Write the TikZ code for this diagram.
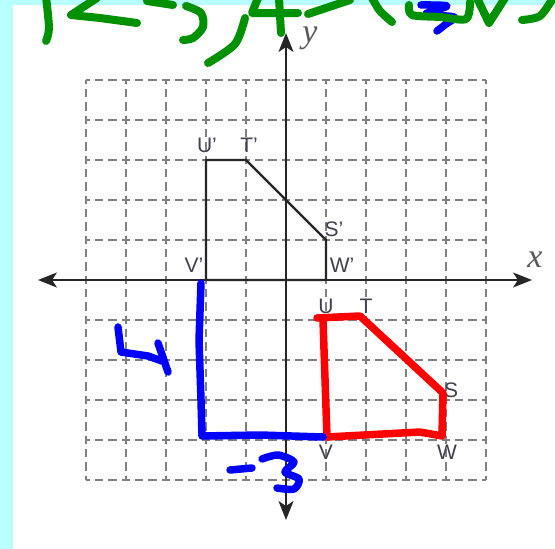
\documentclass[tikz,border=0pt]{standalone}
\usepackage{fontspec}
\setsansfont{Liberation Sans}
\newfontfamily\axisfont{Liberation Serif}
\usetikzlibrary{arrows.meta}

\definecolor{bgcyan}{RGB}{184,255,255}
\definecolor{inkgreen}{RGB}{0,145,0}
\definecolor{inkblue}{RGB}{0,0,255}
\definecolor{inkred}{RGB}{255,0,0}
\definecolor{lblgray}{RGB}{66,66,78}

\begin{document}
\begin{tikzpicture}[x=1pt,y=-1pt,
    gridline/.style={draw=black!50, line width=1.8pt,
      dash pattern=on 8.33pt off 5pt, dash phase=4.17pt},
    axis/.style={draw=black!85, line width=1.6pt,
      {Stealth[length=19pt,width=15pt,inset=5pt]}-{Stealth[length=19pt,width=15pt,inset=5pt]}},
    ink/.style={line width=7.5pt, line cap=round, line join=round},
    lbl/.style={font=\sffamily\fontsize{21}{21}\selectfont, text=lblgray, inner sep=0pt},
    axlbl/.style={font=\axisfont\itshape\fontsize{34}{34}\selectfont, text=black!65, inner sep=0pt}]
    \useasboundingbox (0,0) rectangle (555,549);
    % page
    \fill[bgcyan] (0,0) rectangle (555,549);
    \fill[white] (13,5) rectangle (555,549);
    % grid
    \foreach \x in {86,126,...,486}{
      \draw[gridline] (\x,80) -- (\x,480);
    }
    \foreach \y in {80,120,...,480}{
      \draw[gridline] (86,\y) -- (486,\y);
    }
    % axes
    \coordinate (xl) at (38,280);
    \coordinate (xr) at (532,280);
    \coordinate (yt) at (286,33);
    \coordinate (yb) at (286,520);
    \draw[axis] (xl) -- (xr);
    \draw[axis] (yb) -- (yt);
    \node[axlbl] (xlab) at (535,260) {x};
    \node[axlbl] (ylab) at (310,38) {y};
    % image after translation
    \coordinate (Up) at (206,160);
    \coordinate (Tp) at (246,160);
    \coordinate (Sp) at (326,240);
    \coordinate (Wp) at (326,280);
    \coordinate (Vp) at (206,280);
    \draw[black!85, line width=2.4pt] (Up) -- (Tp) -- (Sp) -- (Wp) -- (Vp) -- cycle;
    \node[lbl] (lUp) at (207,145) {U’};
    \node[lbl] (lTp) at (249,145) {T’};
    \node[lbl] (lSp) at (334,229) {S’};
    \node[lbl] (lWp) at (342,265) {W’};
    \node[lbl] (lVp) at (194,265) {V’};
    % pre-image labels
    \node[lbl] (lU) at (326,306) {U};
    \node[lbl] (lT) at (366,306) {T};
    \node[lbl] (lS) at (451,390) {S};
    \node[lbl] (lW) at (447,452) {W};
    \node[lbl] (lV) at (326,452) {V};
    % red trace of pre-image
    \draw[ink, inkred] (317,318) -- (360,316) -- (443,393) -- (442,436)
      -- (420,432) -- (327,437) -- (323,320);
    % blue translation arrows
    \draw[ink, inkblue] (201,283) -- (199,340) -- (201,400) -- (202,436)
      -- (260,435) -- (323,437);
    \draw[ink, inkblue] (118,327) -- (121,352) -- (148,356) -- (162,361);
    \draw[ink, inkblue] (158,343) -- (168,372);
    \draw[ink, inkblue] (230,470) -- (252,468);
    \draw[ink, inkblue] plot[smooth] coordinates {(262,459) (278,455) (294,462) (285,472)
      (299,479) (294,489) (277,488)};
    \draw[ink, inkblue] plot[smooth] coordinates {(421,5) (447,6) (426,14) (454,17)
      (446,24) (437,31)};
    % green rule written at the top
    \begin{scope}[ink, inkgreen, line width=8pt]
      \draw plot[smooth] coordinates {(46,-3) (49,28) (46,41)};
      \draw (97,-2) -- (71,15) -- (100,18) -- (137,23);
      \draw (147,1) -- (173,5);
      \draw plot[smooth] coordinates {(186,6) (201,13) (203,27) (193,38) (183,40)};
      \draw plot[smooth] coordinates {(245,18) (235,44) (208,63)};
      \draw (258,-2) -- (252,13) -- (298,13);
      \draw (279,-2) -- (281,33);
      \draw (308,14) -- (350,0);
      \draw plot[smooth] coordinates {(372,-2) (380,11) (392,22)};
      \draw plot[smooth] coordinates {(409,5) (412,15) (440,17) (466,19) (470,2)};
      \draw (477,-2) -- (489,23) -- (505,-2);
      \draw plot[smooth] coordinates {(522,20) (540,16) (553,-2)};
    \end{scope}
  \end{tikzpicture}
\end{document}
